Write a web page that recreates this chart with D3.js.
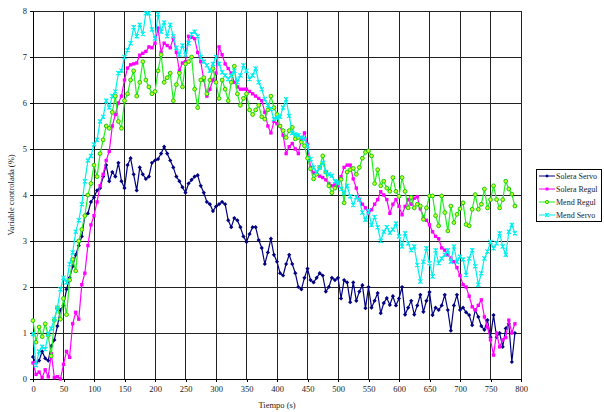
<!DOCTYPE html>
<html>
<head>
<meta charset="utf-8">
<script src="https://cdn.jsdelivr.net/npm/d3@7"></script>
<style>
  body { margin: 0; background: #fff; }
  svg text { font-family: "Liberation Serif", "DejaVu Serif", serif; fill: #222; }
</style>
</head>
<body>
<div id="chart"></div>
<script>
// sample times (s)
const tiempo = [0,5,10,15,20,25,30,35,40,45,50,55,60,65,70,75,80,85,90,95,
  100,105,110,115,120,125,130,135,140,145,150,155,160,165,170,175,180,185,190,195,
  200,205,210,215,220,225,230,235,240,245,250,255,260,265,270,275,280,285,290,295,
  300,305,310,315,320,325,330,335,340,345,350,355,360,365,370,375,380,385,390,395,
  400,405,410,415,420,425,430,435,440,445,450,455,460,465,470,475,480,485,490,495,
  500,505,510,515,520,525,530,535,540,545,550,555,560,565,570,575,580,585,590,595,
  600,605,610,615,620,625,630,635,640,645,650,655,660,665,670,675,680,685,690,695,
  700,705,710,715,720,725,730,735,740,745,750,755,760,765,770,775,780,785,790];

const soleraServo = [0.48,0.35,0.4,0.6,0.45,0.4,0.72,0.85,1.15,1.5,1.6,1.95,2.2,2.45,2.7,2.9,3.1,3.55,3.6,3.85,
  3.95,4.1,4.15,4.4,4.65,4.3,4.5,4.4,4.7,4.3,4.15,4.65,4.8,4.45,4.1,4.6,4.45,4.35,4.4,4.7,
  4.75,4.78,4.9,5.05,4.9,4.75,4.6,4.4,4.3,4.17,4.05,4.25,4.33,4.4,4.43,4.2,4.05,3.85,3.8,3.65,
  3.75,3.8,3.85,3.8,3.45,3.3,3.5,3.45,3.3,3.1,2.98,3.15,3.3,3.3,3.02,2.85,2.5,2.75,3.05,2.7,
  2.55,2.3,2.25,2.5,2.7,2.5,2.3,2.0,1.95,2.2,2.4,2.15,2.1,2.2,2.3,2.25,1.9,2.0,2.2,2.15,
  2.2,1.75,2.15,2.1,1.67,2.1,1.7,1.9,2.04,1.54,2.0,1.55,1.7,1.87,1.43,1.65,1.76,1.61,1.8,1.6,
  1.75,2.0,1.4,1.55,1.7,1.4,1.6,1.83,1.46,1.7,1.89,1.39,1.55,1.5,1.6,1.83,1.5,1.05,1.6,1.83,
  1.5,1.55,1.45,1.39,1.17,1.5,1.35,1.15,1.07,1.28,0.91,1.39,0.91,1.0,0.7,1.1,1.2,0.37,1.0];

const soleraRegul = [0.35,0.1,0.15,0.03,0.2,0.05,0.55,0.03,0.05,0.0,0.32,0.6,0.47,1.2,1.45,1.3,2.05,2.3,2.9,3.35,
  3.55,3.85,4.2,4.45,4.75,4.95,5.5,5.75,6.0,6.15,6.5,6.76,6.83,6.85,6.87,7.04,7.08,7.12,7.22,7.2,
  7.3,7.63,7.1,7.3,7.25,7.2,7.41,7.1,6.7,6.87,6.9,7.45,7.43,7.4,7.1,6.9,6.5,6.15,6.3,6.5,
  6.65,7.22,7.05,6.85,6.75,6.65,6.45,6.35,6.3,6.3,6.3,6.25,6.2,6.15,6.1,6.05,5.8,5.5,5.35,5.6,
  5.55,5.5,5.3,4.9,5.05,5.12,5.0,4.9,5.2,5.35,5.1,4.6,4.48,4.45,4.41,4.38,4.33,4.25,4.2,4.22,
  4.2,4.4,4.6,4.65,4.65,4.35,4.15,3.9,3.8,3.72,3.6,3.68,3.8,3.9,4.07,4.0,3.9,3.6,3.8,3.9,
  3.75,3.57,3.75,3.9,3.8,3.93,3.96,3.7,3.52,3.45,3.35,3.2,3.1,3.05,2.85,2.8,2.7,2.63,2.55,2.42,
  2.25,2.05,2.0,1.8,1.57,1.5,1.6,1.72,1.35,1.13,0.85,0.52,1.0,0.7,0.85,0.9,1.28,1.0,1.2];

const mendRegul = [1.27,0.8,1.13,0.92,1.2,0.95,0.5,1.28,1.55,1.3,1.75,1.4,2.15,2.6,2.35,3.0,3.25,3.55,4.0,4.25,
  4.65,4.4,4.9,5.2,5.5,5.45,5.8,6.15,5.6,5.45,6.05,6.2,6.5,6.7,6.15,6.45,6.9,6.5,6.35,6.2,
  6.25,6.7,7.05,6.45,6.55,6.65,6.05,6.4,6.65,6.35,6.85,6.9,7.0,6.3,5.9,6.5,6.55,6.2,6.5,6.75,
  6.45,6.1,6.5,6.3,6.05,6.45,6.8,6.2,5.95,6.1,6.2,5.85,5.75,5.85,5.95,5.7,5.65,5.85,6.15,5.9,
  5.75,5.5,5.4,5.25,5.4,5.47,5.22,5.25,5.15,5.07,4.8,4.57,4.35,4.45,4.6,4.85,4.5,4.2,4.05,4.15,
  4.27,4.34,3.83,4.5,4.55,4.58,4.45,4.6,4.8,4.93,4.96,4.85,4.25,4.55,4.2,4.3,4.15,4.08,4.38,4.08,
  3.97,4.38,4.08,3.72,3.95,3.72,3.8,3.76,3.47,3.72,3.98,3.98,3.55,3.33,3.98,3.62,3.22,3.76,3.4,3.58,
  3.7,3.83,3.36,3.33,3.69,4.01,3.69,3.8,4.13,3.72,3.9,4.2,3.9,3.72,3.9,4.3,4.13,4.02,3.76];

const mendServo = [0.98,0.3,0.6,0.7,0.65,0.98,1.1,1.3,1.55,1.95,2.2,2.1,2.5,2.75,3.2,3.45,3.8,4.3,4.75,4.85,
  5.1,5.2,5.6,5.7,6.05,5.9,6.15,6.25,6.65,6.7,7.0,7.15,7.3,7.65,7.45,7.7,7.5,7.95,7.95,7.6,
  7.4,7.93,7.55,7.75,7.45,7.7,7.45,7.2,7.05,7.25,7.05,7.3,7.5,7.55,7.45,7.0,6.9,6.82,6.7,6.85,
  7.0,6.85,6.67,6.6,6.52,6.6,6.7,6.45,6.6,6.82,6.7,6.52,6.6,6.75,6.45,6.3,6.08,5.95,5.87,5.65,
  5.68,5.7,5.9,6.08,5.72,5.35,5.32,5.3,5.25,5.22,5.07,4.78,4.6,4.5,4.6,4.7,4.5,4.45,4.42,4.3,
  4.27,4.13,4.05,4.2,3.97,3.78,3.95,3.9,3.62,3.46,3.65,3.35,3.52,3.3,3.0,3.2,3.3,3.18,3.25,3.38,
  3.1,2.88,3.17,2.95,2.8,2.88,2.48,2.12,2.55,2.84,2.52,2.23,2.8,2.52,2.62,2.7,2.8,2.55,2.88,2.55,
  2.66,2.6,2.26,2.62,2.8,2.45,2.05,2.3,2.62,2.77,2.98,2.84,2.95,3.17,2.88,2.7,3.2,3.35,3.17];

const xTicks = [0,50,100,150,200,250,300,350,400,450,500,550,600,650,700,750,800];
const yTicks = [0,1,2,3,4,5,6,7,8];

const series = [
  { name: "Solera Servo", values: soleraServo, color: "#000080", marker: "diamond" },
  { name: "Solera Regul", values: soleraRegul, color: "#FF00FF", marker: "square" },
  { name: "Mend Regul", values: mendRegul, color: "#22EE22", marker: "circle" },
  { name: "Mend Servo", values: mendServo, color: "#00EEEE", marker: "cross" }
];

const width = 604, height = 412;
const svg = d3.select("#chart").append("svg")
  .attr("width", width).attr("height", height);

const x = d3.scaleLinear().domain([0, 800]).range([33, 521]);
const y = d3.scaleLinear().domain([0, 8]).range([379, 11]);

// grid
const grid = svg.append("g").attr("shape-rendering", "crispEdges");
grid.selectAll(".v").data(xTicks).enter().append("line")
  .attr("x1", d => x(d)).attr("x2", d => x(d))
  .attr("y1", y(0)).attr("y2", y(8))
  .attr("stroke", "#222").attr("stroke-width", 1);
grid.selectAll(".h").data(yTicks).enter().append("line")
  .attr("x1", x(0)).attr("x2", x(800))
  .attr("y1", d => y(d)).attr("y2", d => y(d))
  .attr("stroke", "#222").attr("stroke-width", 1);

// axes
const xAxis = svg.append("g")
  .attr("transform", `translate(0,${y(0)})`)
  .call(d3.axisBottom(x).tickValues(xTicks).tickSize(3).tickSizeOuter(0));
const yAxis = svg.append("g")
  .attr("transform", `translate(${x(0)},0)`)
  .call(d3.axisLeft(y).tickValues(yTicks).tickSize(3).tickSizeOuter(0));
[xAxis, yAxis].forEach(a => {
  a.selectAll("path, line").attr("stroke", "#000").attr("shape-rendering", "crispEdges");
  a.selectAll("text").attr("font-size", "8.5px").attr("fill", "#222");
});
xAxis.selectAll("text").attr("dy", "0.8em");

svg.append("text")
  .attr("x", 277).attr("y", 408)
  .attr("text-anchor", "middle").attr("font-size", "8.5px")
  .text("Tiempo (s)");
svg.append("text")
  .attr("transform", "translate(14,195) rotate(-90)")
  .attr("text-anchor", "middle").attr("font-size", "8.5px")
  .text("Variable controlada (%)");

// marker drawing
function drawMarker(g, type, color, size) {
  const s = size;
  if (type === "diamond") {
    g.append("path").attr("d", `M0,${-s}L${s},0L0,${s}L${-s},0Z`).attr("fill", color);
  } else if (type === "square") {
    g.append("rect").attr("x", -s * 0.8).attr("y", -s * 0.8)
      .attr("width", s * 1.6).attr("height", s * 1.6).attr("fill", color);
  } else if (type === "circle") {
    g.append("circle").attr("r", s * 0.9).attr("fill", "#CCFF22")
      .attr("stroke", "#11CC11").attr("stroke-width", 1);
  } else {
    g.append("path").attr("d", `M${-s},${-s}L${s},${s}M${-s},${s}L${s},${-s}M0,${-s}L0,${s}`)
      .attr("stroke", color).attr("stroke-width", 1.1);
  }
}

const line = d3.line()
  .x((d, i) => x(tiempo[i]))
  .y(d => y(d));

series.forEach(s => {
  const g = svg.append("g");
  g.append("path")
    .datum(s.values)
    .attr("d", line)
    .attr("fill", "none")
    .attr("stroke", s.color)
    .attr("stroke-width", 1.2);
  g.selectAll("g.m").data(s.values).enter().append("g")
    .attr("transform", (d, i) => `translate(${x(tiempo[i])},${y(d)})`)
    .each(function () { drawMarker(d3.select(this), s.marker, s.color, 2.1); });
});

// legend
const legend = svg.append("g");
legend.append("rect")
  .attr("x", 536.5).attr("y", 169.5).attr("width", 65).attr("height", 52)
  .attr("fill", "#fff").attr("stroke", "#000").attr("stroke-width", 1);
series.forEach((s, i) => {
  const ly = 176 + i * 13;
  legend.append("line")
    .attr("x1", 539).attr("x2", 555).attr("y1", ly).attr("y2", ly)
    .attr("stroke", s.color).attr("stroke-width", 1);
  const mg = legend.append("g").attr("transform", `translate(547,${ly})`);
  drawMarker(mg, s.marker, s.color, 1.8);
  legend.append("text")
    .attr("x", 556).attr("y", ly + 3)
    .attr("font-size", "8px")
    .text(s.name);
});
</script>
</body>
</html>
